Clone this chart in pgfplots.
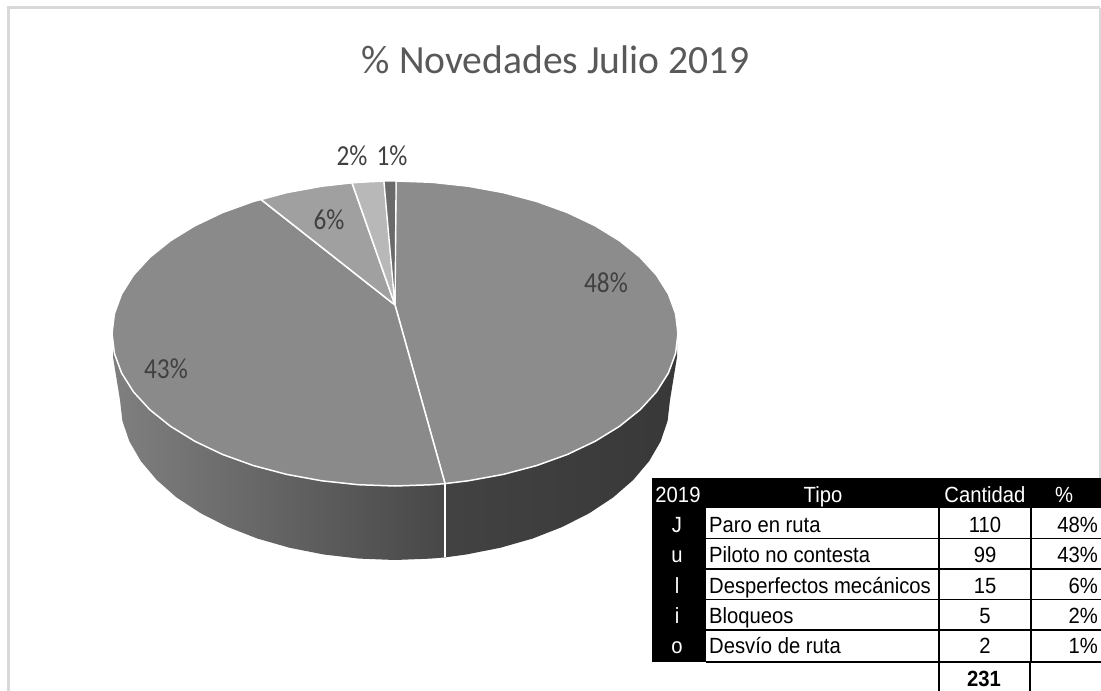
\documentclass[border=0pt]{standalone}
\usepackage{pgfplots}
\pgfplotsset{compat=1.18}
\usepackage{fontspec}
\setmainfont{Carlito}
\newfontfamily\tablefont[FakeStretch=0.92]{Liberation Sans}
\definecolor{frameg}{HTML}{D9D9D9}
\definecolor{titleg}{HTML}{595959}
\definecolor{labelg}{HTML}{404040}
\definecolor{sliceA}{HTML}{8C8C8C}
\definecolor{sliceB}{HTML}{8A8A8A}
\definecolor{sliceC}{HTML}{A0A0A0}
\definecolor{sliceD}{HTML}{B8B8B8}
\definecolor{sliceE}{HTML}{6A6A6A}
\newcommand{\tb}[1]{{\tablefont\fontsize{22}{24}\selectfont #1}}
\newcommand{\lb}[1]{{\fontsize{29}{32}\selectfont #1}}
\begin{document}
\begin{tikzpicture}
\path[use as bounding box] (0,0) rectangle (1101pt,691pt);
\begin{axis}[
  at={(0,0)}, anchor=south west,
  width=1101pt, height=691pt, scale only axis,
  xmin=0, xmax=1101, ymin=0, ymax=691, y dir=reverse,
  axis lines=none, clip=false,
]
% chart frame
\draw[frameg, line width=3pt] (8.5,691) -- (8.5,7.5) -- (1100,7.5);
\draw[frameg, line width=2pt] (1100,7.5) -- (1100,478);

% side wall of the pie, below the two large slices
\addplot[forget plot, draw=none, left color=black!50, right color=black!72] coordinates {
 (445,470)(445,557.4)(430.9,558.6)(395,560)(359.1,558.6)(323.8,554.5)(289.8,547.8)
 (257.5,538.6)(227.6,526.9)(200.5,513.1)(176.5,497.4)(156.8,480)(140.9,461.2)
 (129.4,441.4)(122.4,420.9)(120,400)(113,357)(113,340)(300,400)(445,470)};
\addplot[forget plot, draw=none, left color=black!74, right color=black!78] coordinates {
 (445,470)(445,557.4)(466.2,554.5)(500.2,547.8)(532.5,538.6)(562.4,526.9)(589.5,513.1)
 (613.2,497.4)(633.2,480)(649.1,461.2)(660.6,441.4)(667.6,420.9)(670,400)(677,357)
 (677,340)(500,400)(445,470)};
\addplot[forget plot, white, line width=1.4pt] coordinates {(445,484)(445,557.4)};

% top face, one polygon per slice
\addplot[forget plot, fill=sliceA, draw=white, line width=1.5pt] coordinates {
 (395,305)(396,181)(431.9,182.3)(468.2,186.2)(503.3,192.6)(536.5,201.4)(567.3,212.5)
 (595.1,225.7)(619.5,240.7)(640.1,257.25)(656.5,275.1)(668.4,294)(675.6,313.6)(678,333.5)
 (675.6,353.4)(668.4,373)(656.5,391.9)(640.1,409.75)(619.5,426.3)(595.1,441.3)(567.3,454.5)
 (536.5,465.6)(503.3,474.4)(468.2,480.8)(445,483.6)(395,305)};
\addplot[forget plot, fill=sliceB, draw=white, line width=1.5pt] coordinates {
 (395,305)(445,483.6)(431.9,484.7)(395,486)(358.1,484.7)(321.8,480.8)(286.7,474.4)
 (253.5,465.6)(222.7,454.5)(194.9,441.3)(170.5,426.3)(149.9,409.75)(133.5,391.9)(121.6,373)
 (114.4,353.4)(112,333.5)(114.4,313.6)(121.6,294)(133.5,275.1)(149.9,257.25)(170.5,240.7)
 (194.9,225.7)(222.7,212.5)(253.5,201.4)(261,199.5)(395,305)};
\addplot[forget plot, fill=sliceC, draw=white, line width=1.5pt] coordinates {
 (395,305)(261,199.5)(286.7,192.6)(321.8,186.2)(352,182.8)(395,305)};
\addplot[forget plot, fill=sliceD, draw=white, line width=1.5pt] coordinates {
 (395,305)(352,182.8)(368,181.8)(384,181.1)(395,305)};
\addplot[forget plot, fill=sliceE, draw=white, line width=1.2pt] coordinates {
 (395,305)(384,181.1)(396,181)(395,305)};

% title and slice labels
\node[text=titleg, xscale=0.99] at (555.5,60) {\fontsize{40}{44}\selectfont \% Novedades Julio 2019};
\node[text=labelg, xscale=0.87] at (606,283) {\lb{48\%}};
\node[text=labelg, xscale=0.87] at (166,369) {\lb{43\%}};
\node[text=labelg, xscale=0.87] at (329,220) {\lb{6\%}};
\node[text=labelg, xscale=0.87] at (352,156) {\lb{2\%}};
\node[text=labelg, xscale=0.87] at (392,156) {\lb{1\%}};

% summary table
\fill[black] (652,478) rectangle (1101,508);
\fill[black] (652,508) rectangle (706,662);
\draw[black, line width=1.1pt]
  (706,538.5) -- (1101,538.5) (706,569) -- (1101,569) (706,599.5) -- (1101,599.5)
  (706,630) -- (1101,630) (706,662) -- (938,662) (1031,662) -- (1101,662)
  (939,508) -- (939,662) (1031,508) -- (1031,662);
\draw[black, line width=2pt] (938.5,691) -- (938.5,662) -- (1030,662) -- (1030,691);

\node[text=white, anchor=base, inner sep=0pt] at (678,502) {\tb{2019}};
\node[text=white, anchor=base, inner sep=0pt] at (823,502) {\tb{Tipo}};
\node[text=white, anchor=base, inner sep=0pt] at (985,502) {\tb{Cantidad}};
\node[text=white, anchor=base, inner sep=0pt] at (1064,502) {\tb{\%}};
\node[text=white, anchor=base, inner sep=0pt] at (677,532) {\tb{J}};
\node[text=white, anchor=base, inner sep=0pt] at (677,562) {\tb{u}};
\node[text=white, anchor=base, inner sep=0pt] at (677,593) {\tb{l}};
\node[text=white, anchor=base, inner sep=0pt] at (677,623) {\tb{i}};
\node[text=white, anchor=base, inner sep=0pt] at (677,653) {\tb{o}};

\node[anchor=base west, inner sep=0pt] at (709,532) {\tb{Paro en ruta}};
\node[anchor=base west, inner sep=0pt] at (709,562) {\tb{Piloto no contesta}};
\node[anchor=base west, inner sep=0pt] at (709,593) {\tb{Desperfectos mecánicos}};
\node[anchor=base west, inner sep=0pt] at (709,623) {\tb{Bloqueos}};
\node[anchor=base west, inner sep=0pt] at (709,653) {\tb{Desvío de ruta}};

\node[anchor=base, inner sep=0pt] at (985,532) {\tb{110}};
\node[anchor=base, inner sep=0pt] at (985,562) {\tb{99}};
\node[anchor=base, inner sep=0pt] at (985,593) {\tb{15}};
\node[anchor=base, inner sep=0pt] at (985,623) {\tb{5}};
\node[anchor=base, inner sep=0pt] at (985,653) {\tb{2}};
\node[anchor=base east, inner sep=0pt] at (1098,532) {\tb{48\%}};
\node[anchor=base east, inner sep=0pt] at (1098,562) {\tb{43\%}};
\node[anchor=base east, inner sep=0pt] at (1098,593) {\tb{6\%}};
\node[anchor=base east, inner sep=0pt] at (1098,623) {\tb{2\%}};
\node[anchor=base east, inner sep=0pt] at (1098,653) {\tb{1\%}};
\node[anchor=base, inner sep=0pt] at (984,686) {\tb{\bfseries 231}};
\end{axis}
\end{tikzpicture}
\end{document}
